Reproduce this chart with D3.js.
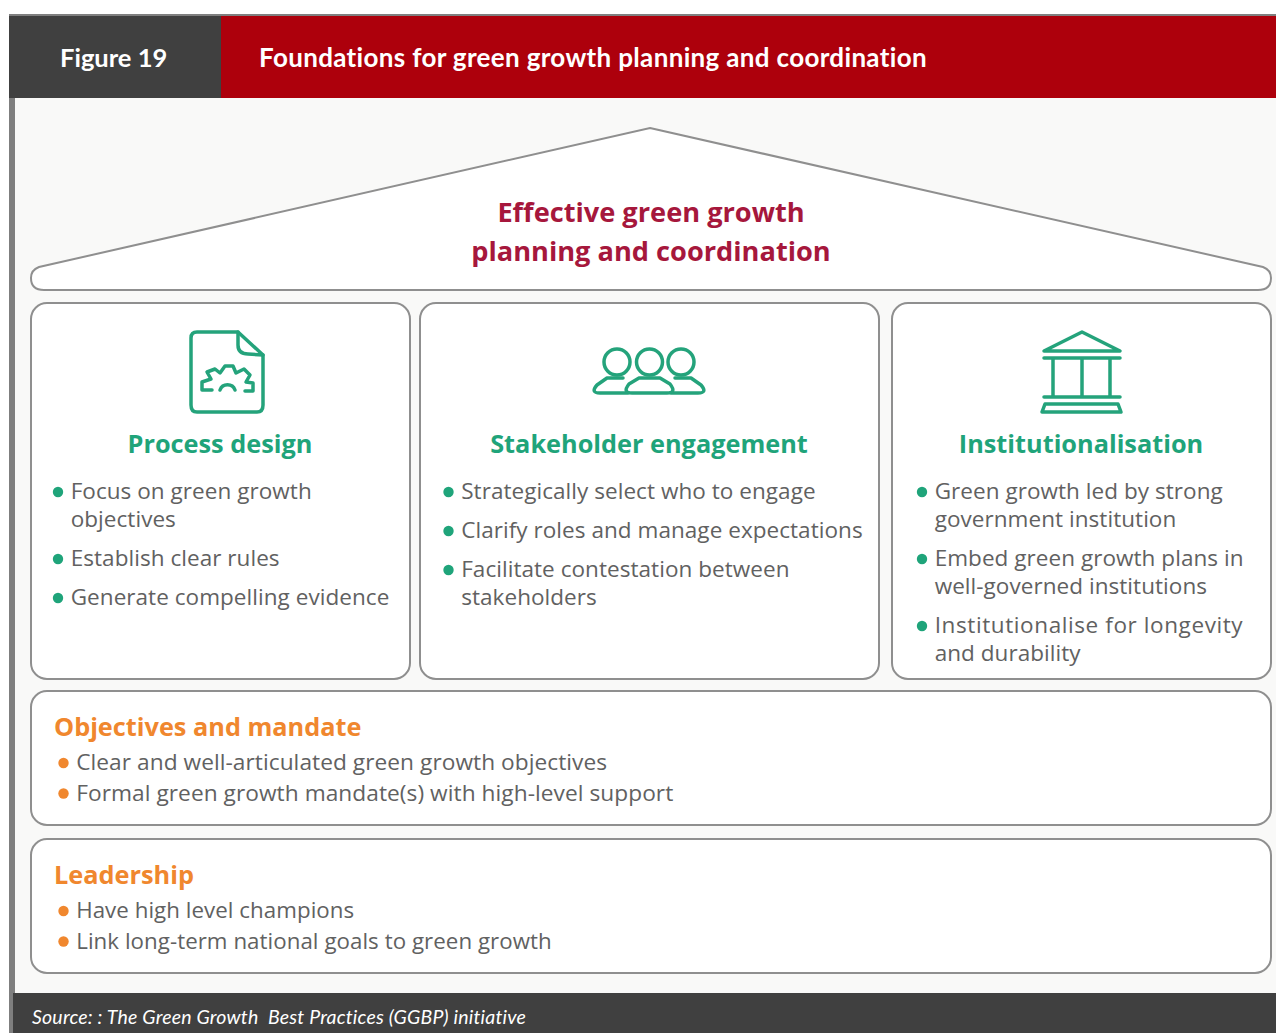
<!DOCTYPE html>
<html lang="en">
<head>
<meta charset="utf-8">
<script src="https://d3js.org/d3.v7.min.js"></script>
<style>
  * { margin: 0; padding: 0 }
  body { background: #fff; overflow: hidden }
  svg { display: block }
  .hdr { font-family: "Lato", sans-serif; font-weight: 700; font-size: 26px; letter-spacing: .33px; fill: #fff }
  .hdr.fig { font-size: 25.5px; letter-spacing: 0 }
  .roof { font-family: "Open Sans", sans-serif; font-weight: 700; font-size: 27.2px; fill: #a6173c; text-anchor: middle }
  .head { font-family: "Open Sans", sans-serif; font-weight: 700; font-size: 25.3px }
  .item { font-family: "Open Sans", sans-serif; font-size: 22.5px; letter-spacing: .05px; fill: #616161 }
  .src { font-family: "Lato", sans-serif; font-style: italic; font-size: 19.5px; letter-spacing: .2px; fill: #fff }
  .icon { fill: none; stroke: #24a37b; stroke-width: 3.5; stroke-linejoin: round; stroke-linecap: round }
</style>
</head>
<body>
<script>
const figureLabel = 'Figure 19';
const figureTitle = 'Foundations for green growth planning and coordination';
const roofLines = ['Effective green growth', 'planning and coordination'];
const columnTitles = ['Process design', 'Stakeholder engagement', 'Institutionalisation'];
const columnItems = [
  [['Focus on green growth', 'objectives'], ['Establish clear rules'], ['Generate compelling evidence']],
  [['Strategically select who to engage'], ['Clarify roles and manage expectations'], ['Facilitate contestation between', 'stakeholders']],
  [['Green growth led by strong', 'government institution'], ['Embed green growth plans in', 'well-governed institutions'], ['Institutionalise for longevity', 'and durability']]
];
const bandTitles = ['Objectives and mandate', 'Leadership'];
const bandItems = [
  ['Clear and well-articulated green growth objectives', 'Formal green growth mandate(s) with high-level support'],
  ['Have high level champions', 'Link long-term national goals to green growth']
];
const sourceText = 'Source: : The Green Growth  Best Practices (GGBP) initiative';

const green = '#1fa47a', orange = '#f0872e', line = '#8f8f8f';
const svg = d3.select('body').append('svg').attr('width', 1276).attr('height', 1033);

// frame and header
const rect = (x, y, w, h, fill) => svg.append('rect').attr('x', x).attr('y', y).attr('width', w).attr('height', h).attr('fill', fill);
rect(9, 14, 1267, 2, '#7f7f7f');
rect(15, 98, 1261, 895, '#f9f9f8');
rect(9, 98, 6, 935, '#7f7f7f');
rect(9, 16, 212, 82, '#404040');
rect(221, 16, 1055, 82, '#ad000c');
rect(13, 993, 1263, 40, '#404040');
svg.append('text').attr('class', 'hdr fig').attr('x', 60).attr('y', 67).text(figureLabel);
svg.append('text').attr('class', 'hdr').attr('x', 259).attr('y', 67).text(figureTitle);
svg.append('text').attr('class', 'src').attr('x', 32).attr('y', 1024).attr('xml:space', 'preserve').text(sourceText);

// roof
svg.append('path')
  .attr('d', 'M650,128 L1263,267 Q1271,270 1271,278 Q1271,290 1258,290 L44,290 Q31,290 31,278 Q31,270 39,267 Z')
  .attr('fill', '#fff').attr('stroke', line).attr('stroke-width', 2);
svg.selectAll('.roof').data(roofLines).join('text')
  .attr('class', 'roof').attr('x', 651).attr('y', (d, i) => 222 + i * 39).text(d => d);

// boxes
const box = (x0, y0, x1, y1) => svg.append('rect')
  .attr('x', x0).attr('y', y0).attr('width', x1 - x0).attr('height', y1 - y0).attr('rx', 16)
  .attr('fill', '#fff').attr('stroke', line).attr('stroke-width', 2);

const columns = [
  { x0: 31, x1: 410, cx: 220, dot: 58 },
  { x0: 420, x1: 879, cx: 649, dot: 448.5 },
  { x0: 892, x1: 1271, cx: 1081, dot: 922 }
];
columns.forEach((c, i) => {
  box(c.x0, 303, c.x1, 679);
  svg.append('text').attr('class', 'head').attr('x', c.cx).attr('y', 453)
    .attr('text-anchor', 'middle').attr('fill', green).text(columnTitles[i]);
  let y = 499;
  columnItems[i].forEach(item => {
    svg.append('circle').attr('cx', c.dot).attr('cy', y - 7).attr('r', 5.2).attr('fill', green);
    item.forEach((t, k) => {
      const label = svg.append('text').attr('class', 'item').attr('x', c.dot + 12.7).attr('y', y + k * 28).text(t);
      // this line runs wider in the original than the font gives
      if (t.startsWith('Institutionalise')) label.attr('textLength', 308);
    });
    y += (item.length - 1) * 28 + 39;
  });
});

[[691, 825], [839, 973]].forEach(([y0, y1], i) => {
  box(31, y0, 1271, y1);
  svg.append('text').attr('class', 'head').attr('x', 54).attr('y', y0 + 45).attr('fill', orange).text(bandTitles[i]);
  bandItems[i].forEach((t, k) => {
    const y = y0 + 79 + k * 30.5;
    svg.append('circle').attr('cx', 63.5).attr('cy', y - 7).attr('r', 5.2).attr('fill', orange);
    svg.append('text').attr('class', 'item').attr('x', 76.2).attr('y', y)
      .style('font-size', i === 0 ? '22.7px' : '22.3px').text(t);
  });
});

// icons
const doc = svg.append('g').attr('class', 'icon');
doc.append('path').attr('d', 'M238,332 L197,332 Q191,332 191,338 L191,405 Q191,412 197,412 L257,412 Q263,412 263,405 L263,355 Z');
doc.append('path').attr('d', 'M238,332 L238,345 Q238,354 248,354 L263,355');
doc.append('path').attr('d', 'M212,390 L202,390 L202,382 L211,379 L207,372 L215,369 L220,373 L225,366 L233,366 L236,373 L244,369 L250,375 L246,382 L253,383 L253,391 L245,391');
doc.append('path').attr('d', 'M220,390 A8,8 0 0 1 235,390');

const people = svg.append('g').attr('class', 'icon');
[617, 649.5, 681].forEach(cx => people.append('circle').attr('cx', cx).attr('cy', 362).attr('r', 13));
people.append('path').attr('d', 'M623,378 L607,378 L597,385 Q590,393 600,393 L628,393');
people.append('path').attr('d', 'M675,378 L691,378 L701,385 Q708,393 698,393 L671,393');
people.append('path').attr('d', 'M639,378 L660,378 L670,384 Q677,393 667,393 L632,393 Q622,393 629,384 Z').attr('fill', '#fff');

const temple = svg.append('g').attr('class', 'icon').attr('stroke-linecap', 'butt');
temple.append('path').attr('d', 'M1082,332 L1120,351 L1044,351 Z');
temple.append('path').attr('d', 'M1044,358 L1120,358 M1053,358 L1053,397 M1082,358 L1082,397 M1110,358 L1110,397 M1044,397 L1120,397');
temple.append('path').attr('d', 'M1045,404 L1118,404 L1121,412 L1042,412 Z');
</script>
</body>
</html>
